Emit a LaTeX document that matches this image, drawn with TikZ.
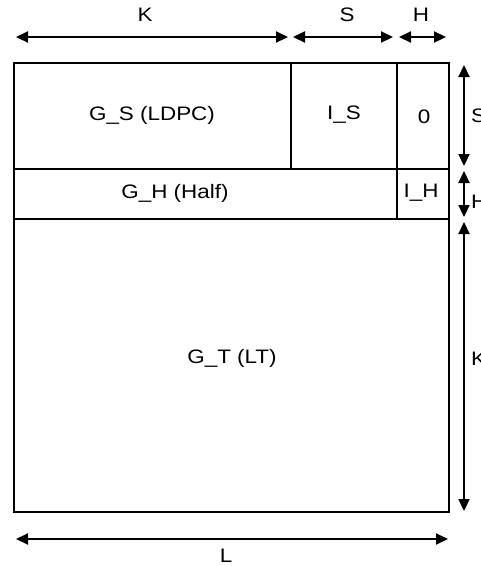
\documentclass[tikz,border=0pt]{standalone}
\usepackage{fontspec}
\setmainfont{Liberation Sans}[FakeStretch=1.15]
\usetikzlibrary{arrows.meta}
\begin{document}
\begin{tikzpicture}[x=1pt,y=-1pt,
  box/.style={draw,line width=2.2pt},
  dim/.style={line width=2.2pt,{Triangle[length=12pt,width=11pt]}-{Triangle[length=12pt,width=11pt]}},
  lbl/.style={font=\fontsize{19.5}{23}\selectfont,inner sep=0pt}]
\useasboundingbox (0,0) rectangle (481,566);
% outer blocks
\draw[box] (14,63) rectangle (449,512);
\draw[box] (14,169) -- (449,169);
\draw[box] (14,219) -- (449,219);
\draw[box] (291,63) -- (291,169);
\draw[box] (397,63) -- (397,219);
% texts in cells
\node[lbl] (gs) at (152,115) {G\_S (LDPC)};
\node[lbl] (is) at (344,115) {I\_S};
\node[lbl] (z) at (424,117) {0};
\node[lbl] (gh) at (175,193) {G\_H (Half)};
\node[lbl] (ih) at (421,193) {I\_H};
\node[lbl] (gt) at (232,358) {G\_T (LT)};
% top dimension arrows
\coordinate (k1) at (16,37); \coordinate (k2) at (288,37);
\coordinate (s1) at (293,37); \coordinate (s2) at (393,37);
\coordinate (h1) at (399,37); \coordinate (h2) at (446,37);
\draw[dim] (k1) -- (k2);
\draw[dim] (s1) -- (s2);
\draw[dim] (h1) -- (h2);
\node[lbl] (kt) at (145,15) {K};
\node[lbl] (st) at (347,15) {S};
\node[lbl] (ht) at (421,15) {H};
% right dimension arrows
\coordinate (rs1) at (464,65); \coordinate (rs2) at (464,166);
\coordinate (rh1) at (464,171); \coordinate (rh2) at (464,217);
\coordinate (rk1) at (464,222); \coordinate (rk2) at (464,511);
\draw[dim] (rs1) -- (rs2);
\draw[dim] (rh1) -- (rh2);
\draw[dim] (rk1) -- (rk2);
\node[lbl,anchor=west] (sr) at (471,116) {S};
\node[lbl,anchor=west] (hr) at (471,202) {H};
\node[lbl,anchor=west] (kr) at (471,359) {K};
% bottom arrow
\coordinate (l1) at (16,539); \coordinate (l2) at (448,539);
\draw[dim] (l1) -- (l2);
\node[lbl] (lb) at (226,556) {L};
\end{tikzpicture}
\end{document}
